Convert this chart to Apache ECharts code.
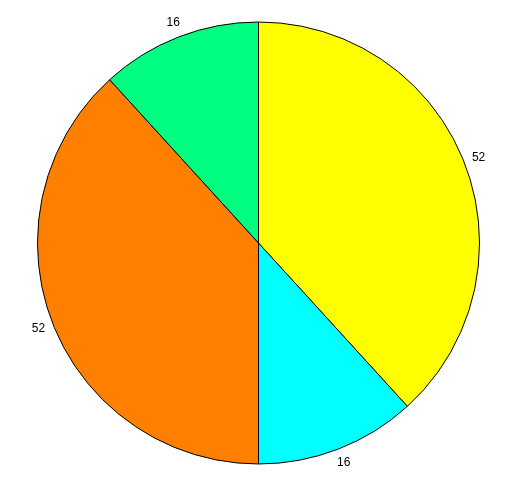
<!DOCTYPE html>
<html>
<head>
<meta charset="utf-8">
<script src="https://cdn.jsdelivr.net/npm/echarts@6/dist/echarts.min.js"></script>
<style>
  html, body { margin: 0; padding: 0; background: #fff; }
  #chart { width: 516px; height: 481px; }
</style>
</head>
<body>
<div id="chart"></div>
<script>
// slices, clockwise from 12 o'clock
const names = ['a', 'b', 'c', 'd'];
const values = [52, 16, 52, 16];
const colors = ['#ffff00', '#00ffff', '#ff8000', '#00ff80'];

const cx = 258.5, cy = 243, r = 221;
const labelDist = 236; // labels sit centred just outside the rim

const chart = echarts.init(document.getElementById('chart'), null, { renderer: 'canvas' });

const option = {
  animation: false,
  series: [
    {
      type: 'pie',
      center: [cx, cy],
      radius: [0, r],
      startAngle: 90,
      clockwise: true,
      avoidLabelOverlap: false,
      itemStyle: { borderColor: '#000', borderWidth: 1 },
      label: {
        show: true,
        position: 'outside',
        formatter: '{c}',
        color: '#000',
        fontFamily: 'Liberation Sans, Arial, sans-serif',
        fontSize: 12
      },
      labelLine: { show: false, length: 8, length2: 0 },
      labelLayout: function (params) {
        const p = params.labelLinePoints;
        if (!p) return {};
        const dx = p[0][0] - cx, dy = p[0][1] - cy;
        const d = Math.sqrt(dx * dx + dy * dy);
        return {
          x: cx + dx / d * labelDist,
          y: cy + dy / d * labelDist,
          align: 'center',
          verticalAlign: 'middle'
        };
      },
      emphasis: { disabled: true },
      data: values.map((v, i) => ({
        name: names[i],
        value: v,
        itemStyle: { color: colors[i] }
      }))
    }
  ]
};

chart.setOption(option);
</script>
</body>
</html>
